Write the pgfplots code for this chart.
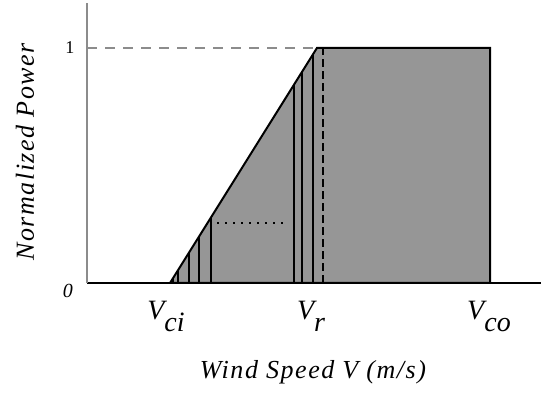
\documentclass[border=0pt]{standalone}
\usepackage{fontspec}
\setmainfont{Liberation Serif}
\usepackage{pgfplots}
\pgfplotsset{compat=1.18}
\definecolor{fillgray}{HTML}{969696}
\definecolor{linegray}{HTML}{8C8C8C}
\begin{document}
\begin{tikzpicture}
\useasboundingbox (-43.5pt,-55.5pt) rectangle (227pt,141.5pt);
\begin{axis}[
  at={(0,0)}, anchor=origin,
  scale only axis, width=227pt, height=140pt,
  xmin=0, xmax=454, ymin=0, ymax=1.191,
  enlargelimits=false, clip=false,
  axis x line=bottom, axis y line=left,
  x axis line style={black, line width=1pt, -},
  y axis line style={linegray, line width=0.8pt, -},
  xtick=\empty, ytick=\empty,
]
% power curve area
\addplot[fill=fillgray, draw=black, line width=1pt] coordinates {(83,0) (230,1) (403,1) (403,0) (83,0)};
% vertical strips
\addplot[ycomb, black, line width=0.7pt, mark=none] coordinates {
  (86,0.020) (91,0.054) (102,0.129) (112,0.197) (124,0.279)
  (207,0.844) (215,0.898) (226,0.973)};
% rated power dashed line
\addplot[linegray, line width=0.8pt, dash pattern=on 5pt off 4pt] coordinates {(0,1) (230,1)};
% rated speed dashed line
\addplot[black, line width=0.8pt, dash pattern=on 4pt off 2pt] coordinates {(236,0) (236,1)};
% dotted horizontal line
\addplot[black, line width=0.8pt, dash pattern=on 1pt off 3pt] coordinates {(130,0.255) (196,0.255)};
\end{axis}
\node[font=\fontsize{9}{10}\selectfont] at (-8.5pt,117.5pt) {1};
\node[font=\fontsize{10}{11}\selectfont\itshape] at (-9.5pt,-4pt) {0};
\node[anchor=base, font=\fontsize{14}{16}\selectfont\itshape] at (39.5pt,-18.5pt) {V\raisebox{-6pt}{ci}};
\node[anchor=base, font=\fontsize{14}{16}\selectfont\itshape] at (112pt,-18.5pt) {V\raisebox{-6pt}{r}};
\node[anchor=base, font=\fontsize{14}{16}\selectfont\itshape] at (201pt,-18.5pt) {V\raisebox{-6pt}{co}};
\node[font=\fontsize{13}{15}\selectfont\itshape] at (113pt,-44.5pt) {\addfontfeatures{LetterSpace=6}Wind Speed V (m/s)};
\node[rotate=90, font=\fontsize{13}{15}\selectfont\itshape] at (-31pt,65.5pt) {\addfontfeatures{LetterSpace=6}Normalized Power};
\end{tikzpicture}
\end{document}
